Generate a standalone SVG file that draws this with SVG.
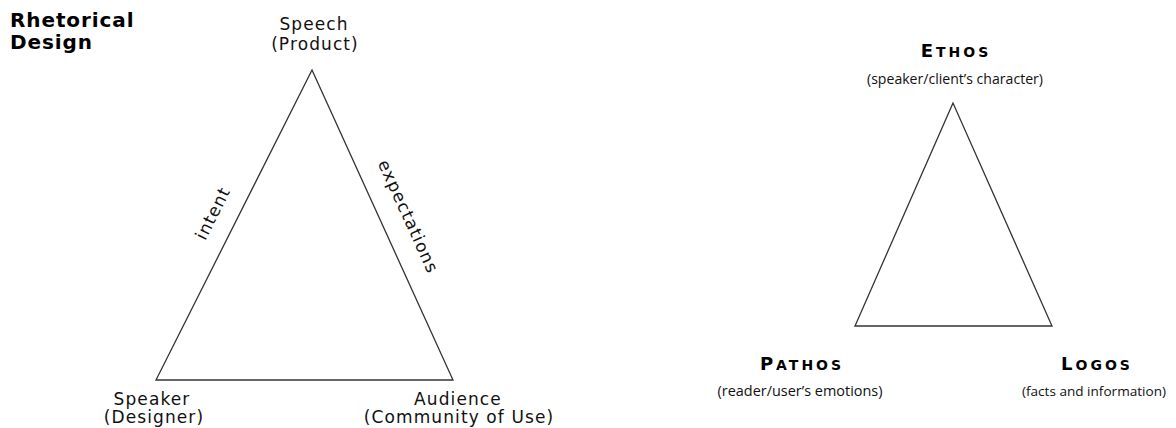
<svg xmlns="http://www.w3.org/2000/svg" width="1176" height="428" viewBox="0 0 1176 428">
<style>
.v{font-family:"DejaVu Sans",Verdana,sans-serif;font-size:17px;letter-spacing:1.1px;fill:#111;text-anchor:middle}
.h{font-family:"DejaVu Sans",Verdana,sans-serif;font-size:20px;letter-spacing:0.9px;font-weight:bold;fill:#000}
.sc{font-family:"DejaVu Sans","Liberation Sans",sans-serif;font-size:14px;font-weight:bold;letter-spacing:3px;fill:#000;text-anchor:middle}
.cap{font-size:18px}
.c{font-family:"Open Sans","Liberation Sans",sans-serif;font-size:15px;fill:#111;text-anchor:middle}
.tri{fill:#fff;stroke:#333;stroke-width:1.3}
</style>
<rect width="1176" height="428" fill="#fff"/>
<g id="title"><text class="h" x="10" y="27">Rhetorical</text><text class="h" x="10" y="49">Design</text></g>
<g id="connectors">
<polygon class="tri" points="312,70 156,380 453,380"/>
<polygon class="tri" points="953,103 855,326 1052,326"/>
<text class="v" transform="translate(218,216) rotate(-63.3)">intent</text>
<text class="v" transform="translate(403,219) rotate(65.5)">expectations</text>
</g>
<g id="speech"><text class="v" x="314" y="30">Speech</text><text class="v" x="315" y="50">(Product)</text></g>
<g id="speaker"><text class="v" x="152" y="405">Speaker</text><text class="v" x="154" y="423">(Designer)</text></g>
<g id="audience"><text class="v" x="458" y="405">Audience</text><text class="v" x="459" y="423">(Community of Use)</text></g>
<g id="ethos"><text class="sc" x="956" y="57"><tspan class="cap">E</tspan>THOS</text><text class="c" x="955" y="84" textLength="176" lengthAdjust="spacingAndGlyphs">(speaker/client’s character)</text></g>
<g id="pathos"><text class="sc" x="802" y="370"><tspan class="cap">P</tspan>ATHOS</text><text class="c" x="800" y="396" textLength="165" lengthAdjust="spacingAndGlyphs">(reader/user’s emotions)</text></g>
<g id="logos"><text class="sc" x="1097" y="370"><tspan class="cap">L</tspan>OGOS</text><text class="c" x="1094" y="396" font-size="13.5" style="font-size:13.5px" textLength="144" lengthAdjust="spacingAndGlyphs">(facts and information)</text></g>
</svg>
